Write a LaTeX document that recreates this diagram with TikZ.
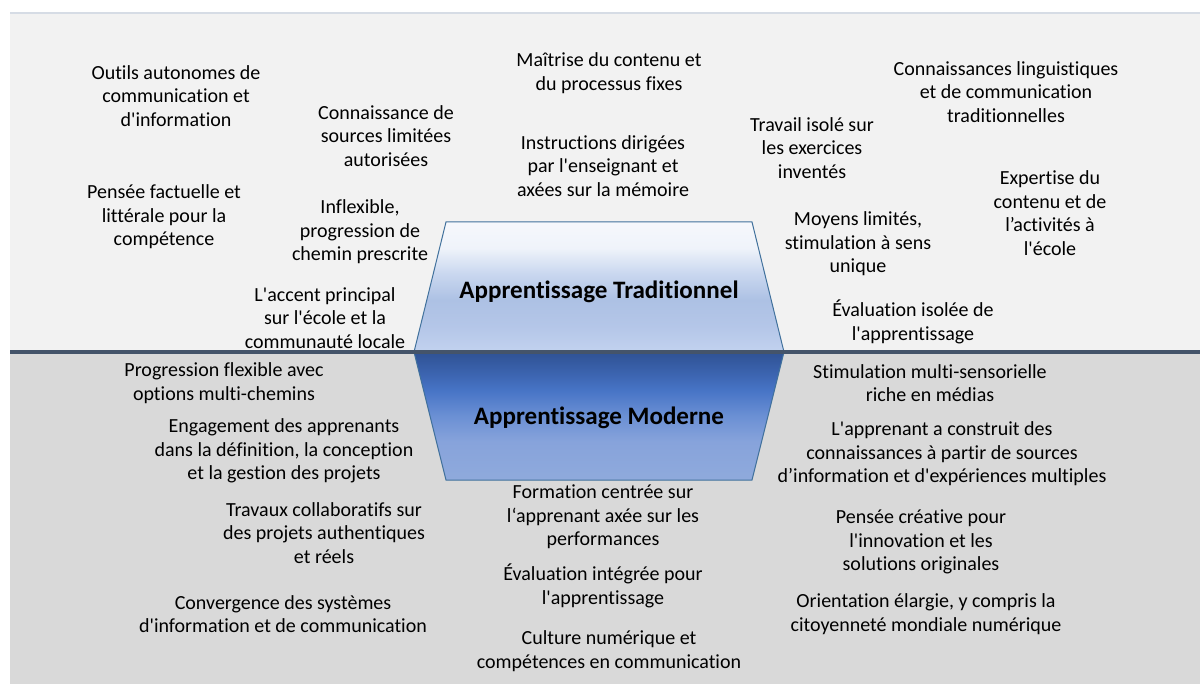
\documentclass[tikz,border=0pt]{standalone}
\usepackage{fontspec}
\setmainfont{Carlito}[Ligatures={TeXOff,NoCommon}]
\definecolor{toppanel}{HTML}{F2F2F2}
\definecolor{botpanel}{HTML}{D9D9D9}
\definecolor{topline}{HTML}{D6DCE5}
\definecolor{divider}{HTML}{44546A}
\definecolor{edge}{HTML}{41719C}
\definecolor{ta}{HTML}{F6F8FC}
\definecolor{tb}{HTML}{EFF3FA}
\definecolor{tc}{HTML}{C9D7EF}
\definecolor{td}{HTML}{ADC1E4}
\definecolor{te}{HTML}{B4C6E8}
\definecolor{tf}{HTML}{C2D2EF}
\definecolor{ma}{HTML}{2F5294}
\definecolor{mb}{HTML}{3B63AE}
\definecolor{mc}{HTML}{4774C6}
\definecolor{md}{HTML}{6B90D4}
\definecolor{me}{HTML}{87A3DB}
\definecolor{mf}{HTML}{8FAADC}
\pgfdeclareverticalshading{tradshade}{100bp}{color(0bp)=(tf); color(25bp)=(tf); color(35bp)=(te); color(45bp)=(td); color(55bp)=(tc); color(65bp)=(tb); color(75bp)=(ta); color(100bp)=(ta)}
\pgfdeclareverticalshading{modshade}{100bp}{color(0bp)=(mf); color(25bp)=(mf); color(40bp)=(me); color(50bp)=(md); color(60bp)=(mc); color(67bp)=(mb); color(75bp)=(ma); color(100bp)=(ma)}
\tikzset{
  txt/.style={align=center, font=\fontsize{15}{17.6}\selectfont, inner sep=0pt, text=black},
  ttl/.style={align=center, font=\fontsize{18.8}{22}\selectfont\bfseries, inner sep=0pt, text=black},
}
\begin{document}
\begin{tikzpicture}[x=0.75pt,y=-0.75pt]
\useasboundingbox (0,0) rectangle (1200,684);
\fill[white] (0,0) rectangle (1200,684);
% panels
\fill[toppanel] (10,13) rectangle (1200,352);
\draw[topline, line width=1pt] (10,13) -- (1200,13);
\fill[botpanel] (10,352) rectangle (1200,684);
% trapezoids
\shade[shading=tradshade] (446,222) -- (752,222) -- (784,352) -- (414,352) -- cycle;
\draw[edge, line width=0.75pt] (414,352) -- (446,222) -- (752,222) -- (784,352);
\shade[shading=modshade] (414,352) -- (784,352) -- (752,480) -- (446,480) -- cycle;
\draw[edge, line width=0.75pt] (414,352) -- (446,480) -- (752,480) -- (784,352);
\draw[divider, line width=2.4pt] (10,352) -- (1200,352);
% titles
\node[ttl] (trad) at (599,292) {Apprentissage Traditionnel};
\node[ttl] (mod) at (599,418) {Apprentissage Moderne};
% top panel texts
\node[txt] (t1) at (176,96) {Outils autonomes de\\communication et\\d'information};
\node[txt] (t2) at (164,217) {Pensée factuelle et\\littérale pour la\\compétence};
\node[txt] (t3) at (386,136) {Connaissance de\\sources limitées\\autorisées};
\node[txt] (t4) at (360,232) {Inflexible,\\progression de\\chemin prescrite};
\node[txt] (t5) at (325,318) {L'accent principal\\sur l'école et la\\communauté locale};
\node[txt] (t6) at (609,73) {Maîtrise du contenu et\\du processus fixes};
\node[txt] (t7) at (603,166) {Instructions dirigées\\par l'enseignant et\\axées sur la mémoire};
\node[txt] (t8) at (812,148) {Travail isolé sur\\les exercices\\inventés};
\node[txt] (t9) at (1006,92) {Connaissances linguistiques\\et de communication\\traditionnelles};
\node[txt] (t10) at (1050,213) {Expertise du\\contenu et de\\l’activités à\\l'école};
\node[txt] (t11) at (858,244) {Moyens limités,\\stimulation à sens\\unique};
\node[txt] (t12) at (913,322) {Évaluation isolée de\\l'apprentissage};
% bottom panel texts
\node[txt] (b1) at (224,383) {Progression flexible avec\\options multi-chemins};
\node[txt] (b2) at (284,451) {Engagement des apprenants\\dans la définition, la conception\\et la gestion des projets};
\node[txt] (b3) at (324,533) {Travaux collaboratifs sur\\des projets authentiques\\et réels};
\node[txt] (b4) at (283,614) {Convergence des systèmes\\d'information et de communication};
\node[txt] (b5) at (603,517) {Formation centrée sur\\l‘apprenant axée sur les\\performances};
\node[txt] (b6) at (603,586) {Évaluation intégrée pour\\l'apprentissage};
\node[txt] (b7) at (609,651) {Culture numérique et\\compétences en communication};
\node[txt] (b8) at (930,383) {Stimulation multi-sensorielle\\riche en médias};
\node[txt] (b9) at (942,454) {L'apprenant a construit des\\connaissances à partir de sources\\d’information et d'expériences multiples};
\node[txt] (b10) at (921,542) {Pensée créative pour\\l'innovation et les\\solutions originales};
\node[txt] (b11) at (926,614) {Orientation élargie, y compris la\\citoyenneté mondiale numérique};
\end{tikzpicture}
\end{document}
